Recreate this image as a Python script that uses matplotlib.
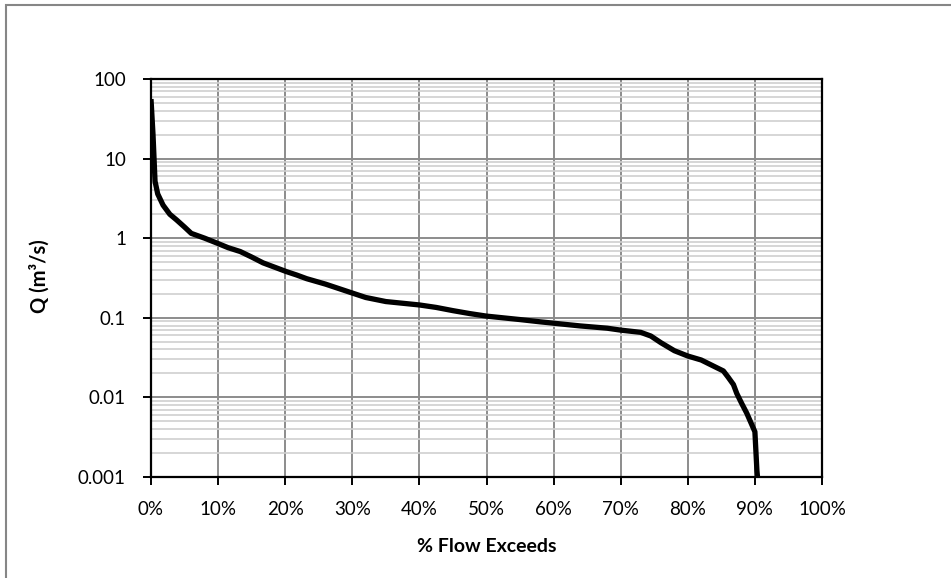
import numpy as np
import matplotlib
matplotlib.use('Agg')
import matplotlib.pyplot as plt
import matplotlib.ticker as ticker
from matplotlib.patches import Rectangle

# flow duration curve
pct_exceed = [0.0, 0.3, 0.6, 1.0, 1.8, 2.8, 3.8, 5.0, 6.0, 8.0, 9.8, 11.5, 13.3,
              15.0, 16.7, 18.5, 20.2, 21.7, 23.2, 26.0, 29.6, 32.0, 35.0, 40.0,
              42.5, 45.0, 47.5, 50.0, 55.0, 58.0, 64.0, 68.0, 70.0, 73.0, 74.5,
              76.0, 78.0, 80.0, 82.0, 84.5, 85.3, 86.0, 86.8, 87.3, 88.0, 88.8,
              90.0, 90.3, 90.5]
flow_q = [56.0, 20.0, 5.2, 3.6, 2.6, 2.0, 1.7, 1.38, 1.15, 1.0, 0.87, 0.76, 0.68,
          0.58, 0.49, 0.43, 0.38, 0.345, 0.31, 0.265, 0.21, 0.18, 0.16, 0.145,
          0.135, 0.123, 0.113, 0.105, 0.095, 0.089, 0.079, 0.074, 0.070, 0.0656,
          0.059, 0.0486, 0.0386, 0.0331, 0.0295, 0.0232, 0.0215, 0.018, 0.0145,
          0.0112, 0.0085, 0.0063, 0.0037, 0.0012, 0.0008]

x_ticks = [0, 10, 20, 30, 40, 50, 60, 70, 80, 90, 100]
y_ticks = [0.001, 0.01, 0.1, 1, 10, 100]
y_labels = ['0.001', '0.01', '0.1', '1', '10', '100']

plt.rcParams['font.family'] = ['Lato', 'DejaVu Sans']

fig = plt.figure(figsize=(9.51, 5.78), dpi=100)
ax_l, ax_r, ax_t, ax_b = 151, 822, 79, 477
ax = fig.add_axes([ax_l / 951, 1 - ax_b / 578, (ax_r - ax_l) / 951, (ax_b - ax_t) / 578])

# outer chart border (excel chart area)
fig.patches.append(Rectangle((6 / 951, -0.1), 1.2, 1 - 5 / 578 + 0.1,
                             transform=fig.transFigure, fill=False,
                             edgecolor='#868686', linewidth=1.5))

ax.set_yscale('log')
ax.set_ylim(0.001, 100)
ax.set_xlim(0, 100)

ax.plot(pct_exceed, flow_q, color='black', linewidth=3.8,
        solid_joinstyle='round', solid_capstyle='butt', zorder=3)

ax.set_xticks(x_ticks)
ax.xaxis.set_major_formatter(ticker.FuncFormatter(lambda v, p: f'{v:.0f}%'))
ax.set_yticks(y_ticks)
ax.set_yticklabels(y_labels)
ax.yaxis.set_minor_locator(ticker.LogLocator(base=10, subs=np.arange(2, 10)))
ax.yaxis.set_minor_formatter(ticker.NullFormatter())

ax.grid(which='major', axis='both', color='#8c8c8c', linewidth=1.4, zorder=1)
ax.grid(which='minor', axis='y', color='#cfcfcf', linewidth=1.2, zorder=1)
ax.set_axisbelow(True)

ax.tick_params(axis='both', which='major', direction='out', length=6, width=1.4,
               labelsize=13.5, color='black')
ax.tick_params(axis='y', which='minor', length=0)
ax.tick_params(axis='y', pad=12)
ax.tick_params(axis='x', pad=11)

for s in ax.spines.values():
    s.set_linewidth(1.6)
    s.set_color('black')

ax.set_xlabel('% Flow Exceeds', fontsize=14, fontweight='bold')
ax.set_ylabel('Q (m³/s)', fontsize=14.5, fontweight='bold')
w, h = ax_r - ax_l, ax_b - ax_t
ax.xaxis.set_label_coords(0.5, -(547 - ax_b) / h)
ax.xaxis.label.set_va('center')
ax.yaxis.set_label_coords((40 - ax_l) / w, 0.5 - (276 - (ax_t + ax_b) / 2) / h)
ax.yaxis.label.set_va('center')
ax.yaxis.label.set_ha('center')

fig.savefig('out.png', dpi=100)
plt.close('all')
